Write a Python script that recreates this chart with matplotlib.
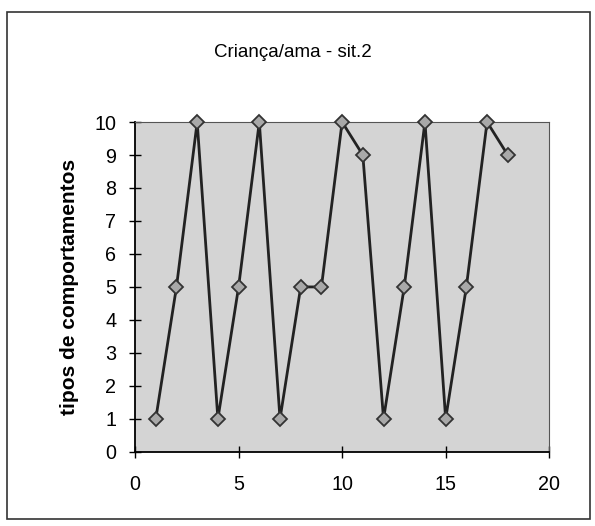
import numpy as np
import matplotlib.pyplot as plt
from matplotlib.patches import Rectangle

plt.rcParams['font.family'] = ['Liberation Sans', 'DejaVu Sans']

# data
x = [1, 2, 3, 4, 5, 6, 7, 8, 9, 10, 11, 12, 13, 14, 15, 16, 17, 18]
y = [1, 5, 10, 1, 5, 10, 1, 5, 5, 10, 9, 1, 5, 10, 1, 5, 10, 9]
xticks = [0, 5, 10, 15, 20]
yticks = list(range(0, 11))

fig = plt.figure(figsize=(5.95, 5.26), dpi=100)
ax = fig.add_axes([0.227, 0.141, 0.696, 0.627])

ax.set_facecolor('#d4d4d4')
ax.plot(x, y, color='#222222', lw=2.0, marker='D', ms=7.5,
        mfc='#a8a8a8', mec='#333333', mew=1.3, zorder=3, clip_on=False)

ax.set_xlim(0, 20)
ax.set_ylim(0, 10)
ax.set_xticks(xticks)
ax.set_yticks(yticks)
ax.tick_params(direction='inout', length=9, width=1, labelsize=14.2)
ax.tick_params(axis='y', pad=9)
ax.tick_params(axis='x', pad=12)
for s in ['top', 'right']:
    ax.spines[s].set_color('#555555')
    ax.spines[s].set_linewidth(0.8)
for s in ['left', 'bottom']:
    ax.spines[s].set_linewidth(1.3)

ax.set_ylabel('tipos de comportamentos', fontsize=15, fontweight='bold')
ax.yaxis.set_label_coords(-0.135, 0.5)
fig.text(0.492, 0.9, 'Criança/ama - sit.2', ha='center', va='center', fontsize=13.5)

# outer frame around the whole chart
fig.patches.append(Rectangle((0.012, 0.013), 0.98, 0.964, transform=fig.transFigure,
                             fill=False, ec='#333333', lw=1.2))

fig.savefig('out.png', dpi=100)
